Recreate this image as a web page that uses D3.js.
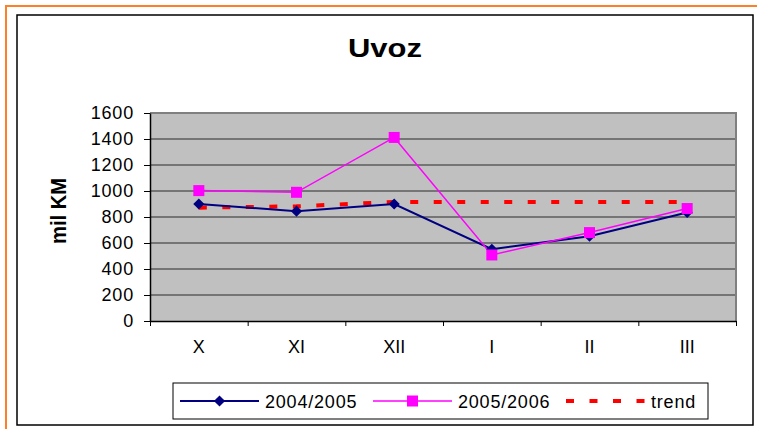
<!DOCTYPE html>
<html>
<head>
<meta charset="utf-8">
<script src="https://cdn.jsdelivr.net/npm/d3@7"></script>
<style>
  body { margin: 0; background: #fff; }
  svg { display: block; font-family: "Liberation Sans", Arial, sans-serif; }
</style>
</head>
<body>
<svg id="chart" width="757" height="429"></svg>
<script>
// data
const MONTHS = ['X', 'XI', 'XII', 'I', 'II', 'III'];
const IMPORT_2004 = [900, 845, 900, 552, 652, 835];
const IMPORT_2005 = [1003, 990, 1412, 508, 680, 865];
const TREND = [872, 882, 916, 916, 916, 916];
const Y_TICKS = [0, 200, 400, 600, 800, 1000, 1200, 1400, 1600];

const PLOT = { left: 150, right: 736, top: 113, bottom: 321 };

const svg = d3.select('#chart');

// orange page frame (only top/left visible)
svg.append('path')
    .attr('d', 'M6,429 V6 H757')
    .attr('fill', 'none')
    .attr('stroke', '#ff7f27')
    .attr('stroke-width', 2);

// chart frame
svg.append('rect')
    .attr('x', 17).attr('y', 15)
    .attr('width', 736).attr('height', 410)
    .attr('fill', '#fff')
    .attr('stroke', '#000')
    .attr('stroke-width', 1.5);

svg.append('text')
    .attr('x', 385).attr('y', 57)
    .attr('text-anchor', 'middle')
    .attr('font-size', 26)
    .attr('font-weight', 'bold')
    .attr('textLength', 74)
    .attr('lengthAdjust', 'spacingAndGlyphs')
    .text('Uvoz');

const x = d3.scaleBand().domain(MONTHS).range([PLOT.left, PLOT.right]);
const xEdges = d3.scaleLinear().domain([0, MONTHS.length]).range([PLOT.left, PLOT.right]);
const y = d3.scaleLinear().domain([0, 1600]).range([PLOT.bottom, PLOT.top]);

// plot area
svg.append('rect')
    .attr('x', PLOT.left).attr('y', PLOT.top)
    .attr('width', PLOT.right - PLOT.left)
    .attr('height', PLOT.bottom - PLOT.top)
    .attr('fill', '#c0c0c0');

svg.append('g')
    .selectAll('line')
    .data(Y_TICKS.filter(v => v > 0 && v < 1600))
    .enter()
    .append('line')
        .attr('x1', PLOT.left).attr('x2', PLOT.right)
        .attr('y1', d => y(d)).attr('y2', d => y(d))
        .attr('stroke', '#2a2a2a')
        .attr('stroke-width', 1);

svg.append('path')
    .attr('d', `M${PLOT.left},${PLOT.top} H${PLOT.right} V${PLOT.bottom}`)
    .attr('fill', 'none')
    .attr('stroke', '#808080')
    .attr('stroke-width', 2);

// axes
const yAxis = svg.append('g')
    .attr('transform', `translate(${PLOT.left},0)`)
    .call(d3.axisLeft(y).tickValues(Y_TICKS).tickFormat(d3.format('d'))
        .tickSize(6).tickPadding(10).tickSizeOuter(0));
yAxis.select('.domain').attr('stroke', '#000').attr('stroke-width', 1.5);
yAxis.selectAll('line').attr('stroke', '#000');
yAxis.selectAll('text')
    .attr('font-size', 18)
    .attr('letter-spacing', 0.8)
    .attr('fill', '#000')
    .attr('font-family', '"Liberation Sans", Arial, sans-serif');

const xTicks = svg.append('g')
    .attr('transform', `translate(0,${PLOT.bottom})`)
    .call(d3.axisBottom(xEdges).ticks(MONTHS.length).tickFormat('').tickSize(5).tickSizeOuter(0));
xTicks.select('.domain').attr('stroke', '#000').attr('stroke-width', 1.5);
xTicks.selectAll('line').attr('stroke', '#000');

const xLabels = svg.append('g')
    .attr('transform', `translate(0,${PLOT.bottom})`)
    .call(d3.axisBottom(x).tickSize(0).tickPadding(19));
xLabels.select('.domain').remove();
xLabels.selectAll('text')
    .attr('font-size', 18)
    .attr('fill', '#000')
    .attr('font-family', '"Liberation Sans", Arial, sans-serif');

svg.append('text')
    .attr('transform', 'translate(66,211) rotate(-90)')
    .attr('text-anchor', 'middle')
    .attr('font-size', 22)
    .attr('font-weight', 'bold')
    .attr('textLength', 66)
    .attr('lengthAdjust', 'spacingAndGlyphs')
    .text('mil KM');

// series
const cx = (d, i) => x(MONTHS[i]) + x.bandwidth() / 2;
const line = d3.line().x(cx).y(d => y(d));

svg.append('path')
    .datum(TREND)
    .attr('d', line)
    .attr('fill', 'none')
    .attr('stroke', '#ff0000')
    .attr('stroke-width', 4)
    .attr('stroke-dasharray', '8,15.5');

svg.append('path')
    .datum(IMPORT_2004)
    .attr('d', line)
    .attr('fill', 'none')
    .attr('stroke', '#000080')
    .attr('stroke-width', 2);

svg.append('path')
    .datum(IMPORT_2005)
    .attr('d', line)
    .attr('fill', 'none')
    .attr('stroke', '#ff00ff')
    .attr('stroke-width', 1.5);

const diamond = d3.symbol().type(d3.symbolSquare).size(62);

svg.append('g')
    .selectAll('path')
    .data(IMPORT_2004)
    .enter()
    .append('path')
        .attr('d', diamond)
        .attr('transform', (d, i) => `translate(${cx(d, i)},${y(d)}) rotate(45)`)
        .attr('fill', '#000080');

svg.append('g')
    .selectAll('rect')
    .data(IMPORT_2005)
    .enter()
    .append('rect')
        .attr('x', (d, i) => cx(d, i) - 5.5)
        .attr('y', d => y(d) - 5.5)
        .attr('width', 11).attr('height', 11)
        .attr('fill', '#ff00ff');

// legend
const legend = svg.append('g').attr('transform', 'translate(173,383)');
legend.append('rect')
    .attr('width', 535).attr('height', 36)
    .attr('fill', '#fff')
    .attr('stroke', '#000')
    .attr('stroke-width', 1);

const LEGEND_ITEMS = [
    { name: '2004/2005', color: '#000080', x0: 7, text: 92, mark: 'diamond' },
    { name: '2005/2006', color: '#ff00ff', x0: 200, text: 285, mark: 'square' },
    { name: 'trend', color: '#ff0000', x0: 393, text: 478, mark: 'dash' }
];

LEGEND_ITEMS.forEach(item => {
    const g = legend.append('g').attr('transform', 'translate(0,18)');
    const ln = g.append('line')
        .attr('x1', item.x0).attr('x2', item.x0 + 79)
        .attr('stroke', item.color);
    if (item.mark === 'dash') {
        ln.attr('stroke-width', 4).attr('stroke-dasharray', '8,15.5');
    } else {
        ln.attr('stroke-width', item.mark === 'diamond' ? 2 : 1.5);
    }
    if (item.mark === 'diamond') {
        g.append('path')
            .attr('d', diamond)
            .attr('transform', `translate(${item.x0 + 39.5},0) rotate(45)`)
            .attr('fill', item.color);
    } else if (item.mark === 'square') {
        g.append('rect')
            .attr('x', item.x0 + 34).attr('y', -5.5)
            .attr('width', 11).attr('height', 11)
            .attr('fill', item.color);
    }
    g.append('text')
        .attr('x', item.text).attr('y', 6.5)
        .attr('font-size', 18)
        .attr('letter-spacing', 0.8)
        .text(item.name);
});
</script>
</body>
</html>
